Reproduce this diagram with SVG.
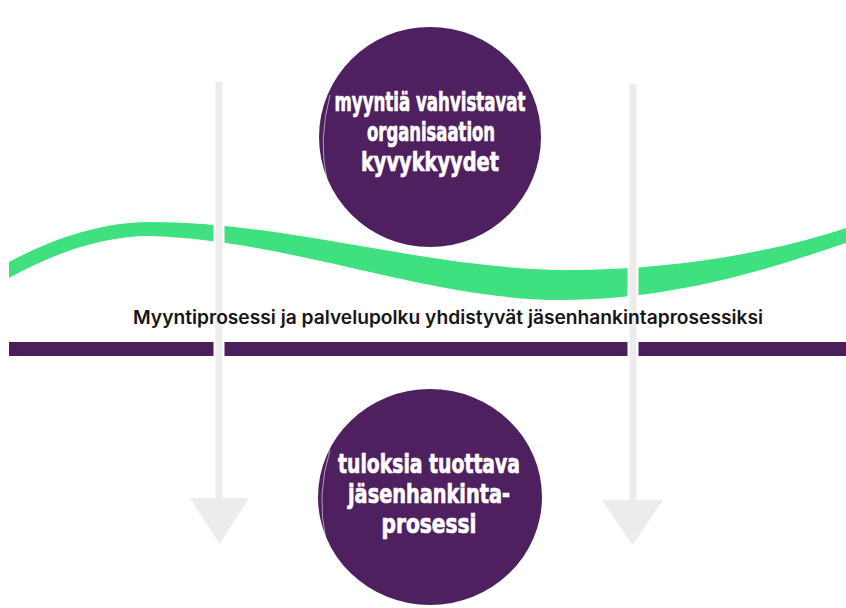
<svg xmlns="http://www.w3.org/2000/svg" width="846" height="608" viewBox="0 0 846 608">
  <style>
    .blob { fill: #4f2060; }
    .ctext { font-family: "DejaVu Sans Condensed", "DejaVu Sans", sans-serif; font-stretch: condensed; font-weight: bold; font-size: 27px; fill: #ffffff; stroke: #ffffff; stroke-width: 0.7; text-anchor: middle; }
    .mid { font-family: Inter, "Noto Sans", "Liberation Sans", sans-serif; font-weight: 600; font-size: 18.5px; fill: #161616; }
    .gap { fill: #ffffff; }
    .shaft { fill: #ececec; }
    .scratch { fill: none; stroke: #ffffff; stroke-width: 1; opacity: 0.55; }
  </style>
  <rect width="846" height="608" fill="#ffffff"/>

  <g id="wave">
    <path d="M9,262 C50,240 100,222 150,222 C290,222 430,270 570,270 C680,270 780,250 846,228 L846,243 C780,265 680,300 560,300 C430,300 290,240 150,236 C100,236 50,255 9,278 Z" fill="#3ee07f"/>
  </g>

  <g id="bar">
    <rect x="9" y="342" width="837" height="14" fill="#4b1f5c"/>
  </g>

  <g id="node-top">
    <ellipse class="blob" cx="430" cy="137" rx="111" ry="110"/>
    <path class="scratch" d="M327,180 Q318,140 330,95"/>
    <path class="scratch" d="M350,222 Q330,205 324,178"/>
    <text class="ctext" x="430" y="111" textLength="191" lengthAdjust="spacingAndGlyphs">myyntiä vahvistavat</text>
    <text class="ctext" x="431" y="141" textLength="128" lengthAdjust="spacingAndGlyphs">organisaation</text>
    <text class="ctext" x="430" y="171" textLength="138" lengthAdjust="spacingAndGlyphs">kyvykkyydet</text>
  </g>

  <g id="node-bottom">
    <ellipse class="blob" cx="430" cy="497" rx="112" ry="108"/>
    <path class="scratch" d="M326,540 Q316,495 330,450"/>
    <path class="scratch" d="M352,584 Q332,566 325,540"/>
    <text class="ctext" x="429" y="473" textLength="182" lengthAdjust="spacingAndGlyphs">tuloksia tuottava</text>
    <text class="ctext" x="429" y="503" textLength="162" lengthAdjust="spacingAndGlyphs">jäsenhankinta-</text>
    <text class="ctext" x="429" y="533" textLength="95" lengthAdjust="spacingAndGlyphs">prosessi</text>
  </g>

  <g id="connectors">
    <g id="arrow-left">
      <rect class="gap" x="213.5" y="82" width="11" height="418"/>
      <rect class="shaft" x="215.5" y="82" width="7" height="418"/>
      <polygon class="shaft" points="190,498 249,498 219.5,544"/>
    </g>
    <g id="arrow-right">
      <rect class="gap" x="627.5" y="84" width="11" height="418"/>
      <rect class="shaft" x="629.5" y="84" width="7" height="418"/>
      <polygon class="shaft" points="602,500 663,500 632.5,545"/>
    </g>
  </g>

  <g id="caption">
    <text class="mid" x="133" y="324" textLength="630" lengthAdjust="spacingAndGlyphs">Myyntiprosessi ja palvelupolku yhdistyvät jäsenhankintaprosessiksi</text>
  </g>
</svg>
